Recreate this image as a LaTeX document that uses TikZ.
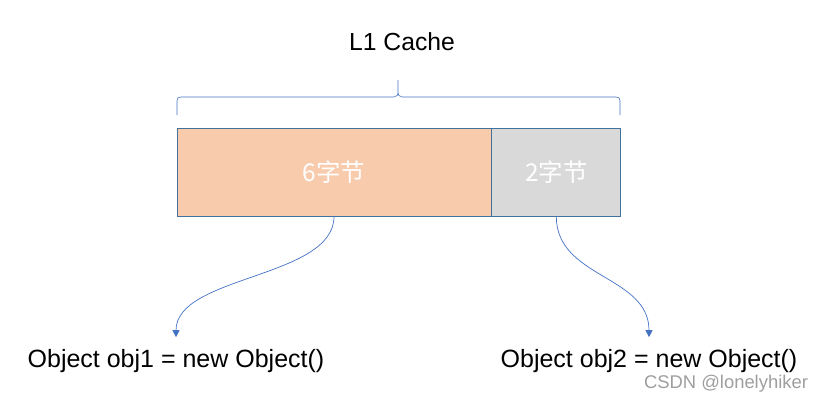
\documentclass[tikz,border=0pt]{standalone}
\usepackage{fontspec}
\setmainfont{Liberation Sans}
\newfontfamily\cjk{Noto Sans CJK SC}
\usepackage{xcolor}
\usetikzlibrary{arrows.meta}
\usetikzlibrary{positioning}

\definecolor{peach}{HTML}{F8CBAD}
\definecolor{lightgrey}{HTML}{D9D9D9}
\definecolor{edgeblue}{HTML}{41719C}
\definecolor{linkblue}{HTML}{4472C4}
\definecolor{markgrey}{HTML}{9E9E9E}

\begin{document}
\begin{tikzpicture}[
    x=1pt, y=-1pt,
    block/.style={rectangle, draw=edgeblue, line width=0.8pt, minimum height=88pt,
      inner sep=0pt, text=white, font=\cjk\fontsize{24.5}{29}\selectfont},
    code label/.style={inner sep=0pt, anchor=base, font=\fontsize{25}{30}\selectfont},
    link/.style={draw=linkblue, line width=0.7pt, -{Triangle[width=7pt,length=7pt]}}
  ]
  \useasboundingbox (0,0) rectangle (826,401);

  % Nodes
  \node[block, fill=peach, minimum width=314pt] (six) at (334,172) {6字节};
  \node[block, fill=lightgrey, minimum width=129pt, right=0pt of six] (two) {2字节};
  \node[inner sep=0pt, anchor=base, font=\fontsize{24.7}{29}\selectfont] (cache) at (402,51) {L1 Cache};
  \node[code label] (obj1) at (176,367) {Object obj1 = new Object()};
  \node[code label] (obj2) at (649,367) {Object obj2 = new Object()};
  \node[inner sep=0pt, anchor=base, text=markgrey, font=\fontsize{18.4}{22}\selectfont] (mark) at (726,388) {CSDN @lonelyhiker};

  % Brace over the cache line
  \draw[linkblue, line width=0.6pt]
    (177,115) -- (177,101) .. controls (177,98) and (178,97) .. (181,97)
    -- (394,97) .. controls (397,97) and (398,95) .. (398,91) -- (398,80)
    (398,91) .. controls (398,95) and (399,97) .. (402,97)
    -- (616,97) .. controls (619,97) and (620,98) .. (620,101) -- (620,115);

  % Curved links
  \draw[link] (six.south) .. controls +(0,62) and +(0,-62) .. ([yshift=11.5pt]obj1.north);
  \draw[link] (two.south) .. controls +(0,62) and +(0,-62) .. ([yshift=11.5pt]obj2.north);

\end{tikzpicture}
\end{document}
